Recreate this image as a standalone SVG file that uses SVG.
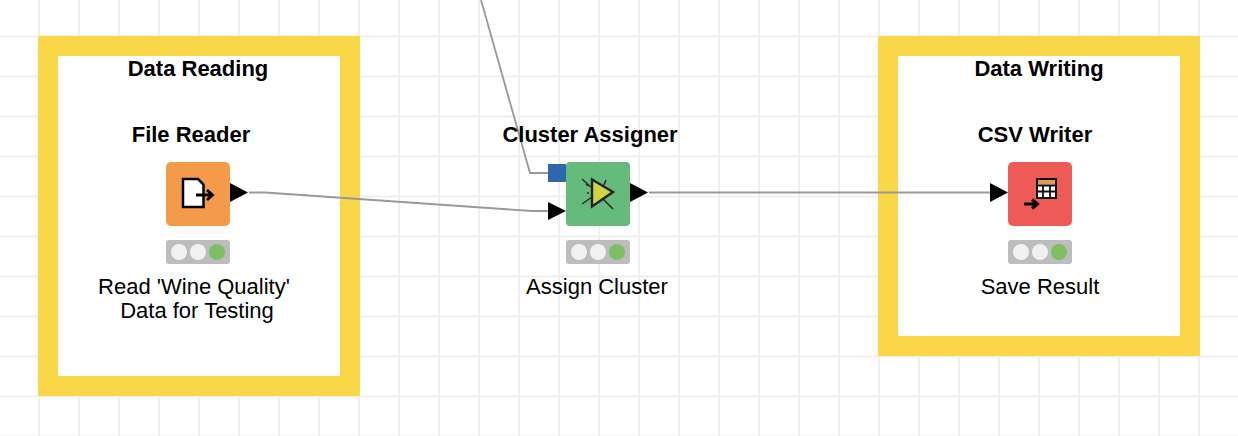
<svg xmlns="http://www.w3.org/2000/svg" width="1238" height="436" viewBox="0 0 1238 436">
<defs>
<style>
.t{font-family:"Liberation Sans",Arial,sans-serif;font-size:22px;fill:#000;text-anchor:middle}
.b{font-weight:bold}
.ann{fill:#fff;stroke:#fad748;stroke-width:20}
.conn{fill:none;stroke:#999;stroke-width:1.800}
.port{fill:#000}
.tl{fill:#bdbdbd}
.off{fill:#f1f1f1}
.on{fill:#7fbf63}
</style>
<pattern id="grid" x="0" y="0" width="40" height="40" patternUnits="userSpaceOnUse">
<rect x="38" width="2" height="40" fill="#efefef"/>
<rect y="35.500" width="40" height="2" fill="#efefef"/>
</pattern>
<g id="tlight">
<rect width="64" height="24" rx="3" class="tl"/>
<circle cx="13" cy="12" r="8" class="off"/>
<circle cx="32" cy="12" r="8" class="off"/>
<circle cx="51" cy="12" r="8" class="on"/>
</g>
</defs>
<rect width="1238" height="436" fill="#fff"/>
<rect width="1238" height="436" fill="url(#grid)"/>
<g id="annotation-reading">
<rect class="ann" x="48" y="46" width="302" height="340"/>
<text class="t b" x="198" y="76">Data Reading</text>
</g>
<g id="annotation-writing">
<rect class="ann" x="888" y="46" width="302" height="300"/>
<text class="t b" x="1039" y="76">Data Writing</text>
</g>
<g id="connectors">
<path class="conn" d="M481 0L530 173H548"/>
<path class="conn" d="M249 192.500H265L532 211H548"/>
<path class="conn" d="M649 192.500H990"/>
</g>
<g id="node-file-reader">
<text class="t b" x="191" y="142">File Reader</text>
<rect x="166" y="162" width="64" height="64" rx="5" fill="#f39a4b"/>
<path d="M183 179H198L203.500 184.500V207H183Z" fill="#fff" stroke="#000" stroke-width="2.500"/>
<path d="M196 195H212M207 190L212.500 195L207 200" fill="none" stroke="#000" stroke-width="2.800"/>
<path class="port" d="M230 183L248 192.500L230 202Z"/>
<use href="#tlight" x="166" y="240"/>
<text class="t" x="194" y="294">Read 'Wine Quality'</text>
<text class="t" x="197" y="318">Data for Testing</text>
</g>
<g id="node-cluster-assigner">
<text class="t b" x="590" y="142">Cluster Assigner</text>
<rect x="548" y="164" width="18" height="18" fill="#2f68aa"/>
<path class="port" d="M548 202L566 211L548 220Z"/>
<rect x="566" y="162" width="64" height="64" rx="4" fill="#65bb7b"/>
<path d="M582 179L592 188M582 204L592 197M603 199L613 209M604 185L606 180M587 193H589M588 186L586 184" fill="none" stroke="#2a2a2a" stroke-width="1.500"/>
<path d="M592 179.500L613 192L592 206.500Z" fill="#cfd440" stroke="#222" stroke-width="2.400"/>
<path class="port" d="M630 183L648 192.500L630 202Z"/>
<use href="#tlight" x="566" y="240"/>
<text class="t" x="597" y="294">Assign Cluster</text>
</g>
<g id="node-csv-writer">
<text class="t b" x="1035" y="142">CSV Writer</text>
<path class="port" d="M990 183L1008 192.500L990 202Z"/>
<rect x="1008" y="162" width="64" height="64" rx="5" fill="#ee5b56"/>
<rect x="1037" y="179" width="19" height="19" fill="#fff" stroke="#111" stroke-width="2"/>
<rect x="1038" y="180" width="17" height="4.500" fill="#e39a50"/>
<path d="M1037 185.500H1056M1037 191.500H1056M1043 185V198M1050 185V198" stroke="#111" stroke-width="1.800" fill="none"/>
<path d="M1024 204H1036M1032 199.500L1037.500 204L1032 208.500" fill="none" stroke="#000" stroke-width="3"/>
<use href="#tlight" x="1008" y="240"/>
<text class="t" x="1040" y="294">Save Result</text>
</g>
</svg>
